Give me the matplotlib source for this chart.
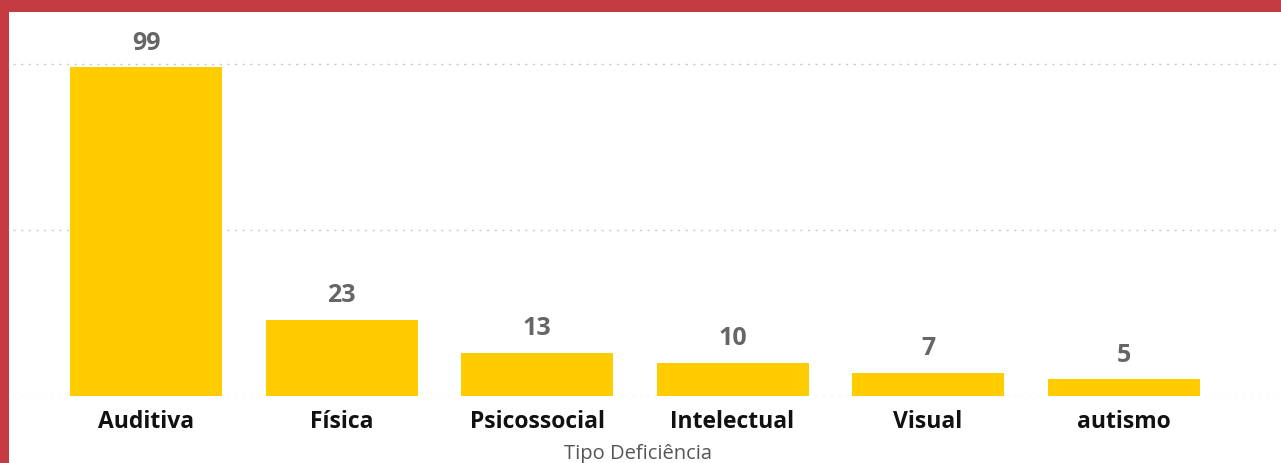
import matplotlib
matplotlib.use("Agg")
import matplotlib.pyplot as plt
from matplotlib.patches import Rectangle

categories = ["Auditiva", "Física", "Psicossocial", "Intelectual", "Visual", "autismo"]
values = [99, 23, 13, 10, 7, 5]
gridline_values = [0, 50, 100]
x_title = "Tipo Deficiência"

BAR_COLOR = "#FFCC00"
FRAME_RED = "#C43C42"
W, H = 1281, 464

plt.rcParams["font.family"] = ["Open Sans", "DejaVu Sans"]

fig = plt.figure(figsize=(W / 100, H / 100), dpi=100, facecolor="white")

# red frame on top and left edges
fig.patches.append(Rectangle((0, 1 - 13 / H), 1, 13 / H, transform=fig.transFigure,
                             facecolor=FRAME_RED, edgecolor="none", zorder=0))
fig.patches.append(Rectangle((0, 0), 9 / W, 1, transform=fig.transFigure,
                             facecolor=FRAME_RED, edgecolor="none", zorder=0))

left_px, right_px, top_px, bottom_px = 13, 1281, 13, 397
ax = fig.add_axes([left_px / W, 1 - bottom_px / H,
                   (right_px - left_px) / W, (bottom_px - top_px) / H])
ax.set_facecolor("none")

step = 195.5
first_center = 146
ax.set_xlim(-(first_center - left_px) / step, (right_px - first_center) / step)
px_per_unit = (397 - 65) / 100
ax.set_ylim(0, (bottom_px - top_px) / px_per_unit)

x = list(range(len(categories)))
ax.bar(x, values, width=152 / step, color=BAR_COLOR, zorder=2)

for v in gridline_values:
    ax.axhline(v, color="#C8C8C8", linewidth=1.0, linestyle=(0, (1.5, 4)), zorder=1)

for xi, v in zip(x, values):
    ax.annotate(str(v), (xi, v), xytext=(0, 9), textcoords="offset points",
                ha="center", va="bottom", fontsize=18, fontweight="bold", color="#666666")

ax.set_xticks(x)
ax.set_xticklabels(categories, fontsize=16.5, fontweight="bold", color="#111111")
ax.tick_params(axis="x", length=0, pad=9)
ax.set_yticks([])
for s in ax.spines.values():
    s.set_visible(False)

fig.text((562 + 713) / 2 / W, 1 - 454 / H, x_title, ha="center", va="center",
         fontsize=14.5, color="#555555")

fig.savefig("out.png", dpi=100, facecolor="white")
